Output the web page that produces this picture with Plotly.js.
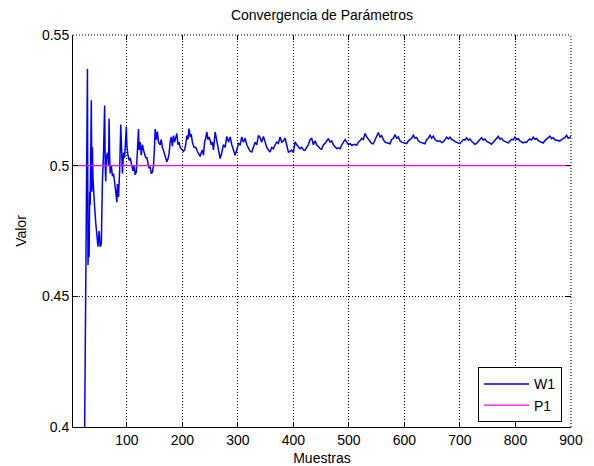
<!DOCTYPE html>
<html>
<head>
<meta charset="utf-8">
<script src="https://cdn.plot.ly/plotly-3.0.1.min.js"></script>
<style>html,body{margin:0;padding:0;background:#fff;}#chart{width:594px;height:466px;}</style>
</head>
<body>
<div id="chart"></div>
<script>
// W1 estimated parameter (samples and values)
const w1Samples = [24,26,28,29,30,31,32,33,34,35,36,37,38,39,40,42,44,46,48,50,52,54,55,56,58,60,61,62,63,65,67,68,69,70,72,74,76,78,80,82,83,85,87,89,90,91,92,94,96,99,100,102,104,106,109,111,113,115,117,119,121,122,124,126,128,130,132,134,136,138,140,142,144,146,148,150,151,153,155,157,160,162,164,167,170,172,174,176,178,180,182,184,186,188,190,192,194,196,199,202,204,206,208,210,212,214,216,218,221,224,227,230,232,234,236,238,240,242,244,246,248,250,252,254,256,259,262,265,268,271,274,277,280,283,286,289,292,295,298,301,304,307,310,313,316,319,322,325,328,331,334,337,340,343,346,349,352,355,358,361,364,367,370,373,376,379,382,385,388,391,394,397,400,403,406,409,412,415,418,421,424,427,430,433,436,439,442,445,448,451,454,457,460,463,466,469,472,475,478,481,484,487,490,493,496,499,502,505,508,511,514,517,520,523,526,529,532,535,538,541,544,547,550,553,556,559,562,565,568,571,574,577,580,583,586,589,592,595,598,601,604,607,610,613,616,619,622,625,628,631,634,637,640,643,646,649,652,655,658,661,664,667,670,673,676,679,682,685,688,691,694,697,700,703,706,709,712,715,718,721,724,727,730,733,736,739,742,745,748,751,754,757,760,763,766,769,772,775,778,781,784,787,790,793,796,799,802,805,808,811,814,817,820,823,826,829,832,835,838,841,844,847,850,853,856,859,862,865,868,871,874,877,880,883,886,889,892,895,898,900];
const w1Values = [0.400,0.470,0.520,0.537,0.462,0.470,0.465,0.490,0.485,0.505,0.525,0.490,0.507,0.495,0.489,0.484,0.478,0.472,0.469,0.475,0.469,0.470,0.488,0.494,0.505,0.523,0.500,0.494,0.503,0.505,0.500,0.518,0.503,0.497,0.500,0.496,0.497,0.492,0.490,0.486,0.493,0.488,0.498,0.5157,0.508,0.500,0.497,0.505,0.503,0.515,0.508,0.504,0.502,0.503,0.500,0.498,0.500,0.4965,0.4975,0.508,0.514,0.506,0.509,0.504,0.508,0.506,0.504,0.503,0.503,0.501,0.499,0.4995,0.497,0.4975,0.500,0.508,0.514,0.510,0.513,0.509,0.508,0.510,0.507,0.505,0.503,0.5015,0.5025,0.5045,0.509,0.511,0.5075,0.5115,0.509,0.511,0.5123,0.508,0.509,0.507,0.506,0.5055,0.506,0.508,0.5115,0.510,0.5142,0.511,0.512,0.509,0.507,0.507,0.5055,0.5045,0.5035,0.505,0.506,0.504,0.509,0.5105,0.5129,0.510,0.511,0.5097,0.508,0.509,0.506,0.5129,0.509,0.506,0.5027,0.505,0.508,0.507,0.5112,0.509,0.511,0.508,0.506,0.504,0.506,0.5085,0.508,0.511,0.509,0.5105,0.508,0.507,0.5055,0.5052,0.507,0.509,0.508,0.5116,0.5107,0.509,0.5112,0.509,0.507,0.506,0.5052,0.507,0.5065,0.508,0.509,0.5085,0.511,0.509,0.5095,0.5105,0.508,0.5052,0.5055,0.506,0.505,0.5091,0.508,0.507,0.5065,0.507,0.506,0.5059,0.507,0.508,0.510,0.5104,0.508,0.5095,0.508,0.507,0.5065,0.5063,0.508,0.5085,0.5095,0.5104,0.509,0.5095,0.508,0.507,0.5065,0.5068,0.5065,0.508,0.509,0.5100,0.509,0.508,0.5085,0.5078,0.508,0.5082,0.5078,0.509,0.5095,0.5105,0.510,0.5123,0.511,0.510,0.509,0.5085,0.5084,0.510,0.5115,0.5127,0.511,0.5115,0.510,0.509,0.5088,0.5085,0.5084,0.510,0.5105,0.5119,0.5105,0.511,0.5095,0.509,0.5088,0.5085,0.5084,0.5095,0.510,0.5105,0.5116,0.5105,0.5108,0.5095,0.509,0.5088,0.5084,0.5084,0.510,0.5105,0.5116,0.5105,0.5113,0.510,0.5095,0.5093,0.5095,0.5088,0.5091,0.510,0.5109,0.5102,0.5109,0.510,0.5098,0.5092,0.509,0.5086,0.5084,0.5092,0.510,0.5098,0.5107,0.5098,0.5102,0.5093,0.5088,0.5082,0.5085,0.5095,0.5100,0.5107,0.5098,0.5102,0.5093,0.509,0.5085,0.5082,0.509,0.5098,0.5103,0.5112,0.5101,0.5105,0.5096,0.5093,0.509,0.5087,0.5094,0.5101,0.5099,0.5109,0.510,0.5103,0.5095,0.5092,0.5087,0.509,0.5089,0.5097,0.5102,0.5098,0.5109,0.5101,0.5104,0.5096,0.5093,0.509,0.5087,0.5096,0.5101,0.5106,0.5113,0.5103,0.5107,0.5099,0.5097,0.5095,0.5094,0.510,0.5105,0.5107,0.5116,0.5105,0.5108,0.5112];
// P1 reference parameter
const p1Samples = [1, 900];
const p1Values = [0.5, 0.5];
// Axis ticks
const xTicks = [100,200,300,400,500,600,700,800,900];
const yTicks = [0.4,0.45,0.5,0.55];
const yTickText = ['0.4','0.45','0.5','0.55'];

const font = {family: 'Liberation Sans, Arial, sans-serif', size: 14, color: '#000'};
const xRange = [3, 900];
const yRange = [0.4, 0.55];

const traces = [
  {x: w1Samples, y: w1Values, type: 'scatter', mode: 'lines', name: 'W1',
   line: {color: '#0000FF', width: 1.5}},
  {x: p1Samples, y: p1Values, type: 'scatter', mode: 'lines', name: 'P1',
   xaxis: 'x2', yaxis: 'y2',
   line: {color: '#FF00FF', width: 1.2}}
];

const dotted = {color: '#000', width: 1, dash: '1px,2px'};

const layout = {
  width: 594, height: 466,
  margin: {l: 73, r: 23, t: 35, b: 39, pad: 0},
  paper_bgcolor: '#fff', plot_bgcolor: '#fff',
  font: font,
  showlegend: true,
  title: {text: 'Convergencia de Parámetros', font: font, x: 0.5, xref: 'paper',
          y: 1 - 15/466, yref: 'container', yanchor: 'middle'},
  xaxis: {range: xRange, tickvals: xTicks, ticks: 'inside', ticklen: 5, tickcolor: '#000',
          showline: true, linecolor: '#000', linewidth: 1, mirror: false,
          showgrid: true, gridcolor: '#000', gridwidth: 1, griddash: '1px,2px',
          zeroline: false, tickfont: font,
          title: {text: 'Muestras', font: font, standoff: 6}},
  yaxis: {range: yRange, tickvals: yTicks, ticktext: yTickText, ticks: 'inside', ticklen: 5, tickcolor: '#000',
          showline: true, linecolor: '#000', linewidth: 1, mirror: false,
          showgrid: true, gridcolor: '#000', gridwidth: 1, griddash: '1px,2px',
          zeroline: false, tickfont: font,
          title: {text: 'Valor', font: font, standoff: 12}},
  xaxis2: {range: xRange, overlaying: 'x', side: 'top', anchor: 'y2', tickvals: xTicks, ticks: 'inside', ticklen: 5,
           tickcolor: '#000', showticklabels: false, showgrid: false, showline: false, zeroline: false},
  yaxis2: {range: yRange, overlaying: 'y', side: 'right', anchor: 'x2', tickvals: yTicks, ticks: 'inside', ticklen: 5,
           tickcolor: '#000', showticklabels: false, showgrid: false, showline: false, zeroline: false},
  shapes: [
    {type: 'line', xref: 'paper', yref: 'paper', x0: 0, x1: 1, y0: 1, y1: 1, line: dotted, layer: 'below'},
    {type: 'line', xref: 'paper', yref: 'paper', x0: 1, x1: 1, y0: 0, y1: 1, line: dotted, layer: 'below'}
  ],
  legend: {x: 0.982, y: 0.012, xanchor: 'right', yanchor: 'bottom', bgcolor: '#fff',
           bordercolor: '#000', borderwidth: 1, font: font, tracegroupgap: 0, itemwidth: 45}
};

Plotly.newPlot('chart', traces, layout, {staticPlot: true, displayModeBar: false});
</script>
</body>
</html>
